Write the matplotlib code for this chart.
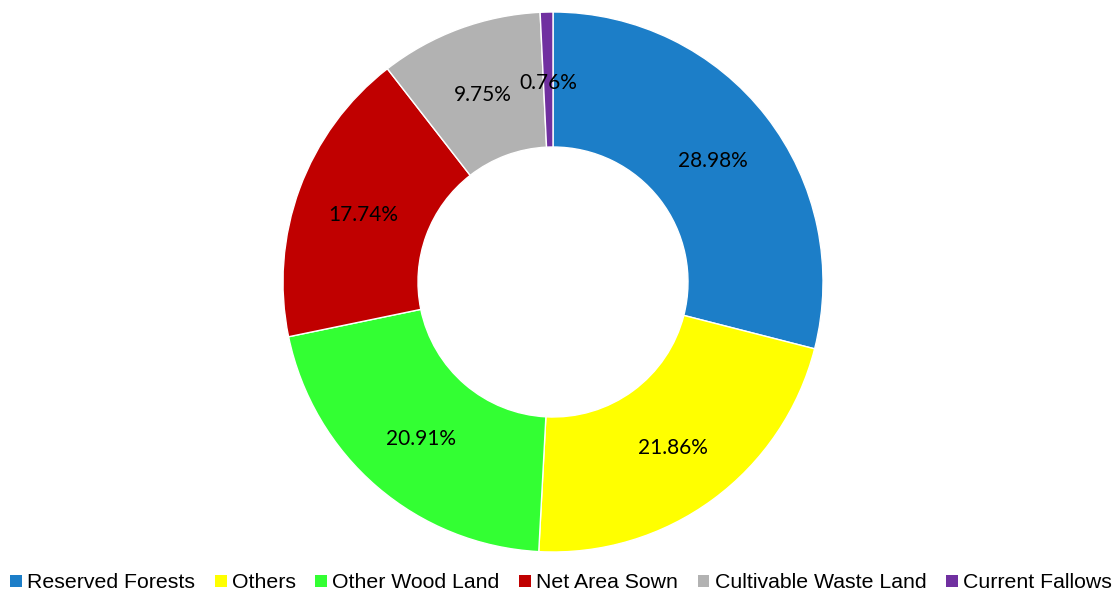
import matplotlib.pyplot as plt
from matplotlib.patches import Patch

categories = ['Reserved Forests', 'Others', 'Other Wood Land', 'Net Area Sown',
              'Cultivable Waste Land', 'Current Fallows']
shares = [28.98, 21.86, 20.91, 17.74, 9.75, 0.76]
colors = ['#1C7EC8', '#FFFF00', '#33FF33', '#C00000', '#B2B2B2', '#7030A0']

fig = plt.figure(figsize=(11.16, 5.92), dpi=100)
ax = fig.add_axes([283 / 1116, 40 / 592, 540 / 1116, 540 / 592])

wedges, texts, autotexts = ax.pie(
    shares, colors=colors, startangle=90, counterclock=False,
    autopct='%.2f%%', pctdistance=0.75, radius=1.0,
    wedgeprops=dict(width=0.5, edgecolor='white', linewidth=1),
    textprops=dict(fontsize=15, family=['Lato', 'DejaVu Sans'], color='black'))
for t in autotexts:
    x, y = t.get_position()
    t.set_position((x, y - 0.012))
ax.set_aspect('equal')
ax.set_xlim(-1, 1)
ax.set_ylim(-1, 1)

handles = [Patch(facecolor=c, edgecolor='none') for c in colors]
fig.legend(handles, categories, loc='center', bbox_to_anchor=(561 / 1116, 9 / 592),
           ncol=6, frameon=False, handlelength=0.55, handleheight=0.55,
           handletextpad=0.25, columnspacing=0.92,
           prop=dict(family=['Liberation Sans', 'DejaVu Sans'], size=15.3))

fig.savefig('out.png', dpi=100)
